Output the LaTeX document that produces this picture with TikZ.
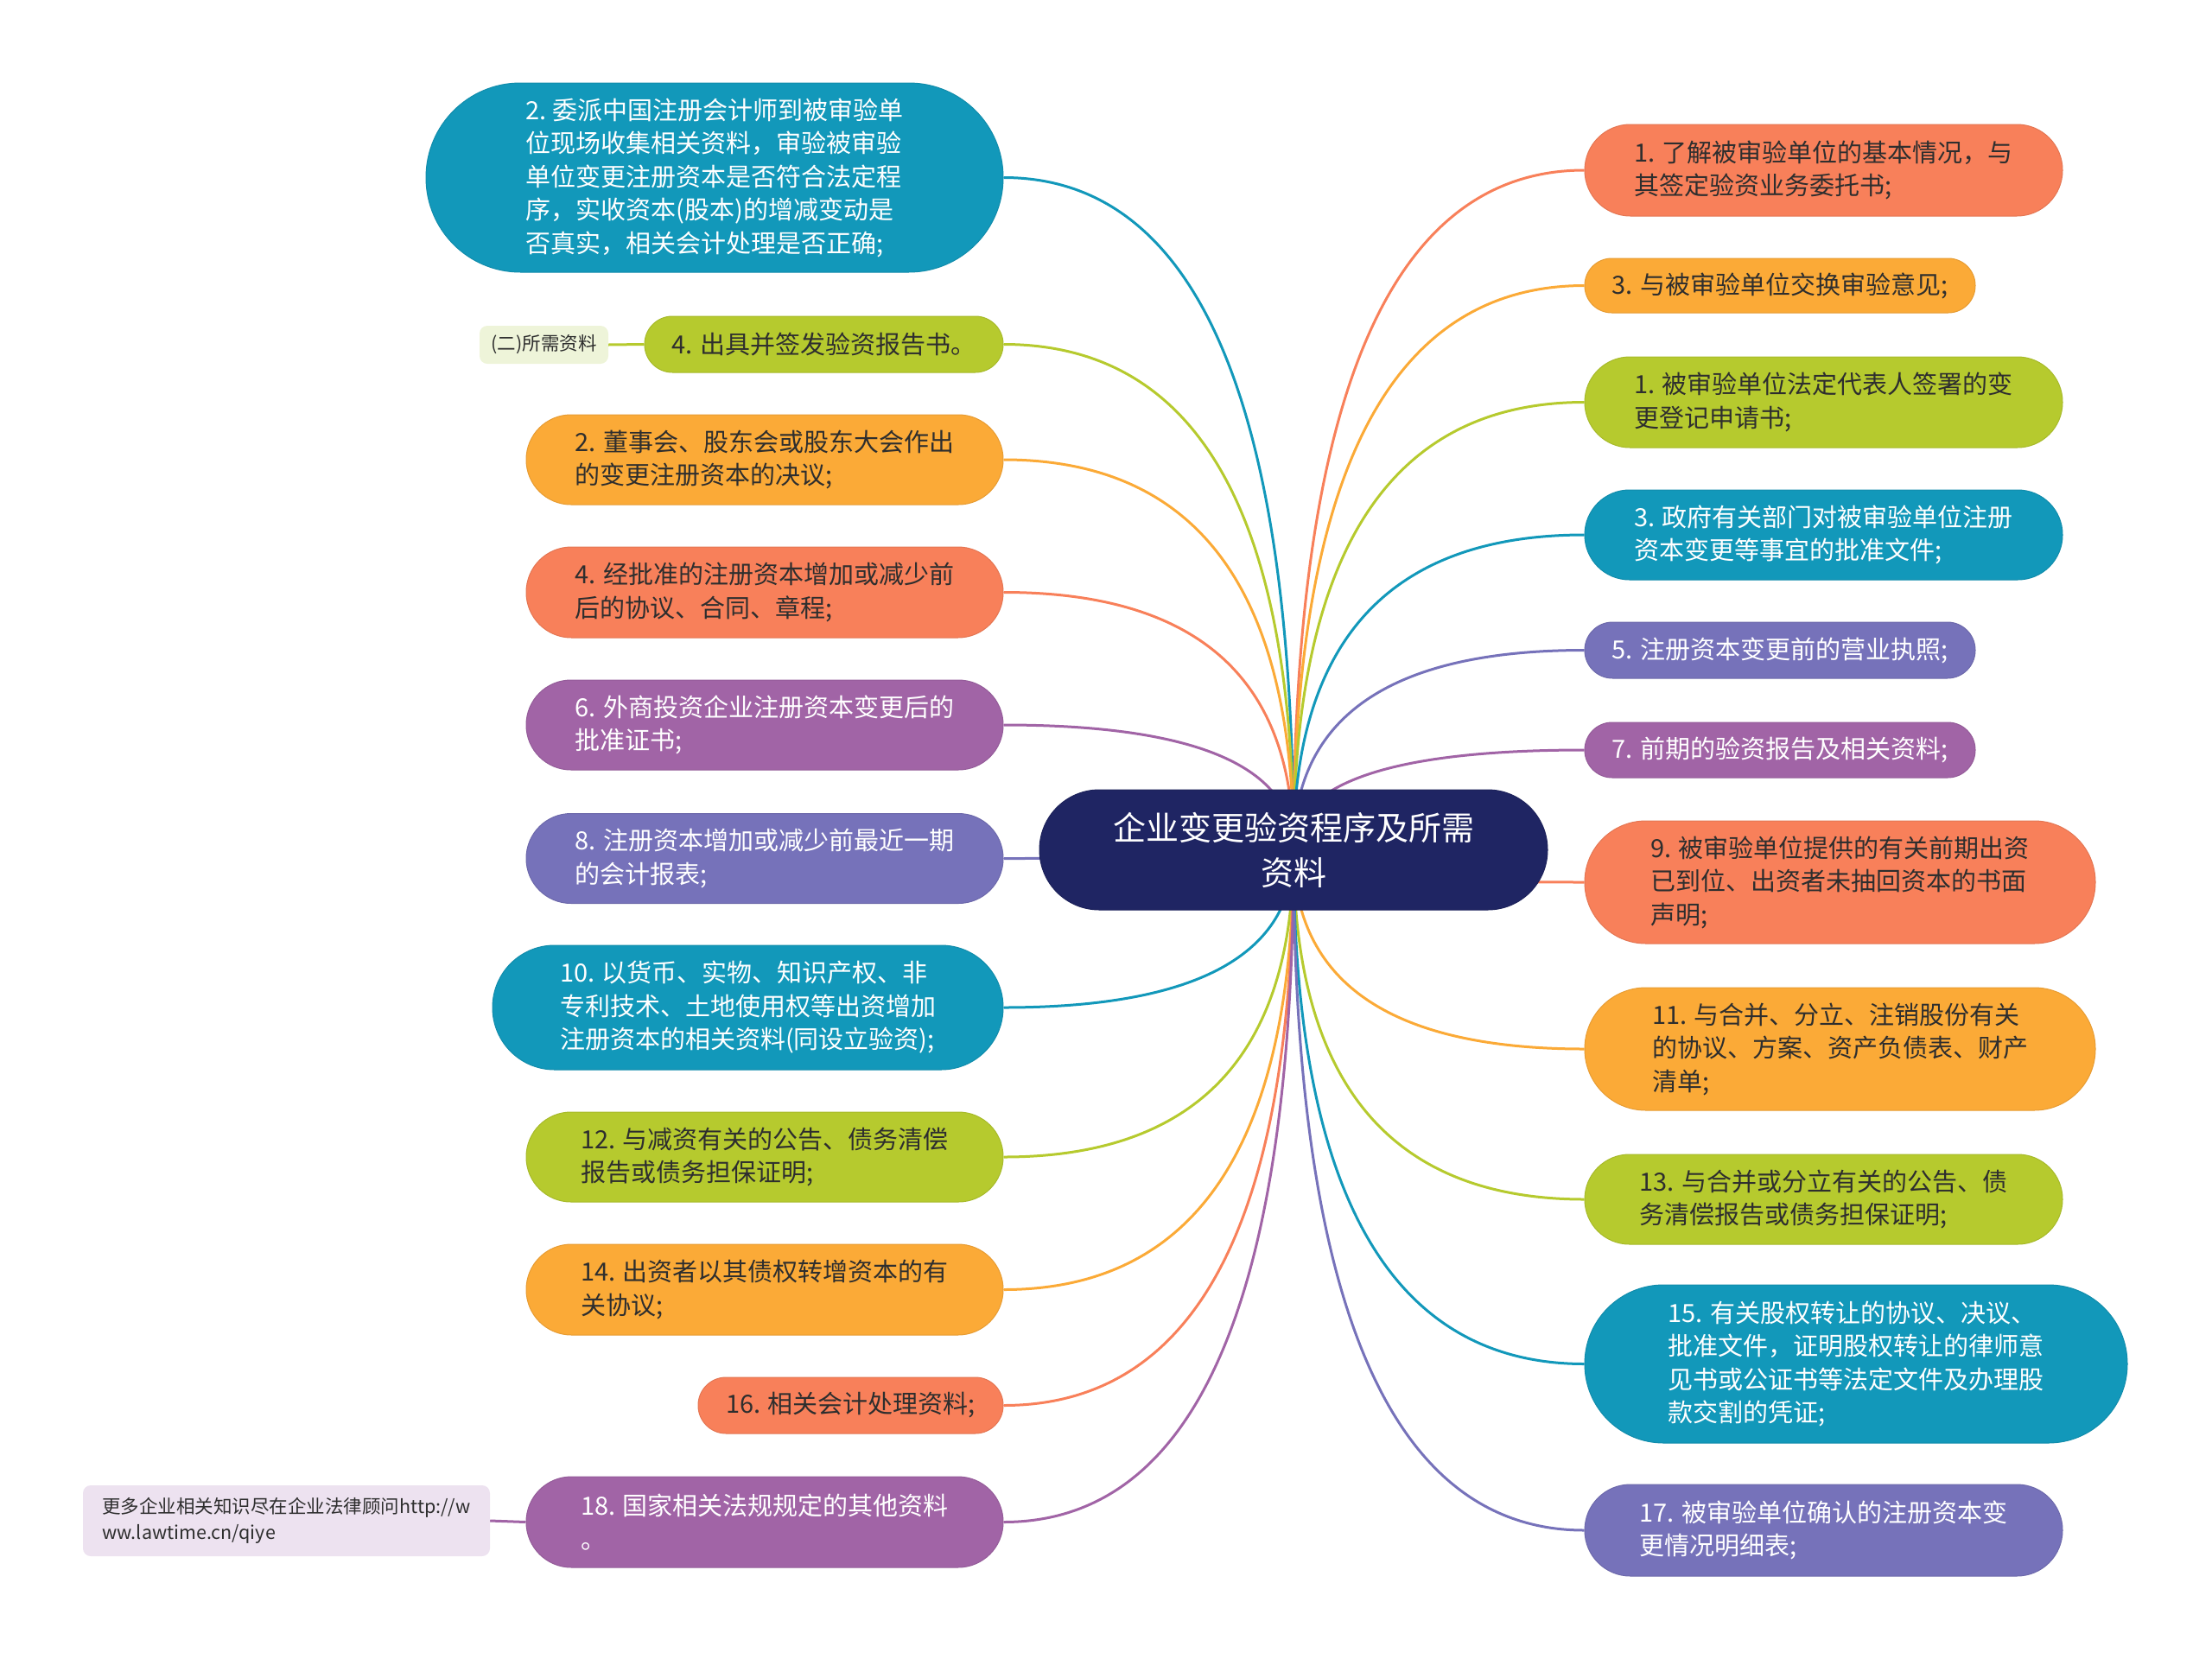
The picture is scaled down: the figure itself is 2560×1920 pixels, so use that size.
\documentclass[tikz,border=0pt]{standalone}
\usepackage{fontspec}
\newfontfamily\cjk{Noto Sans CJK SC}
\usetikzlibrary{calc,backgrounds}
\definecolor{cteal}{HTML}{1298BA}
\definecolor{cgreen}{HTML}{B6CA2E}
\definecolor{cyellow}{HTML}{FBAA37}
\definecolor{corange}{HTML}{F8805A}
\definecolor{cpurple}{HTML}{A164A6}
\definecolor{cblue}{HTML}{7672BA}
\definecolor{cnavy}{HTML}{1F2563}
\definecolor{clgreen}{HTML}{EEF4D9}
\definecolor{clpurple}{HTML}{EDE2F0}
\definecolor{cdark}{HTML}{2E2E2E}
\tikzset{
  box/.style={font=\cjk\fontsize{29}{38.5}\selectfont, align=left, inner sep=0pt, draw=#1!92!black, line width=1pt, fill=#1},
  dk/.style={text=cdark},
  wt/.style={text=white},
  link/.style={line width=3pt},
  small/.style={font=\cjk\fontsize{21.5}{30}\selectfont, align=left, inner sep=0pt, text=cdark, rounded corners=9pt},
}
\newcommand\link[2]{%
  \draw[link,#2] (c.center) .. controls ($(c.center)!2/3!(c.center|-#1)$) and ($(#1)!2/3!(c.center|-#1)$) .. (#1);
}
\begin{document}
\begin{tikzpicture}[x=1pt,y=-1pt]
\useasboundingbox (0,0) rectangle (2560,1920);

% center
\node[box=cnavy, text=white, align=center, font=\cjk\fontsize{38}{52}\selectfont, minimum width=588, minimum height=139, rounded corners=69.3] (c) at (1497,983.5) {企业变更验资程序及所需\\资料};

% left side
\node[box=cteal, wt, minimum width=668, minimum height=219, rounded corners=109.3] (l1) at (827,205.5)
 {2.\ 委派中国注册会计师到被审验单\\位现场收集相关资料，审验被审验\\单位变更注册资本是否符合法定程\\序，实收资本(股本)的增减变动是\\否真实，相关会计处理是否正确;};
\node[box=cgreen, dk, minimum width=415, minimum height=65, rounded corners=32.3] (l2) at (953.5,398.5) {4. 出具并签发验资报告书。};
\node[small, fill=clgreen, minimum width=149, minimum height=44] (ls) at (629.5,399) {(二)所需资料};
\node[box=cyellow, dk, minimum width=552, minimum height=104, rounded corners=51.8] (l3) at (885,532) {2. 董事会、股东会或股东大会作出\\的变更注册资本的决议;};
\node[box=corange, dk, minimum width=552, minimum height=105, rounded corners=52.3] (l4) at (885,685.5) {4. 经批准的注册资本增加或减少前\\后的协议、合同、章程;};
\node[box=cpurple, wt, minimum width=552, minimum height=104, rounded corners=51.8] (l5) at (885,839) {6. 外商投资企业注册资本变更后的\\批准证书;};
\node[box=cblue, wt, minimum width=552, minimum height=104, rounded corners=51.8] (l6) at (885,993.5) {8. 注册资本增加或减少前最近一期\\的会计报表;};
\node[box=cteal, wt, minimum width=591, minimum height=144, rounded corners=71.8] (l7) at (865.5,1166) {10. 以货币、实物、知识产权、非\\专利技术、土地使用权等出资增加\\注册资本的相关资料(同设立验资);};
\node[box=cgreen, dk, minimum width=552, minimum height=104, rounded corners=51.8] (l8) at (885,1339) {12. 与减资有关的公告、债务清偿\\报告或债务担保证明;};
\node[box=cyellow, dk, minimum width=552, minimum height=105, rounded corners=52.3] (l9) at (885,1492.5) {14. 出资者以其债权转增资本的有\\关协议;};
\node[box=corange, dk, minimum width=353, minimum height=65, rounded corners=32.3] (l10) at (984.5,1626.5) {16. 相关会计处理资料;};
\node[box=cpurple, wt, minimum width=552, minimum height=105, rounded corners=52.3] (l11) at (885,1761.5) {18. 国家相关法规规定的其他资料\\。};
\node[small, fill=clpurple, minimum width=471, minimum height=82] (ln) at (331.5,1760) {更多企业相关知识尽在企业法律顾问http://w\\ww.lawtime.cn/qiye};

% right side
\node[box=corange, dk, minimum width=553, minimum height=106, rounded corners=52.8] (r1) at (2110.5,197) {1. 了解被审验单位的基本情况，与\\其签定验资业务委托书;};
\node[box=cyellow, dk, minimum width=452, minimum height=63, rounded corners=31.3] (r2) at (2060,330.5) {3. 与被审验单位交换审验意见;};
\node[box=cgreen, dk, minimum width=553, minimum height=105, rounded corners=52.3] (r3) at (2110.5,465.5) {1. 被审验单位法定代表人签署的变\\更登记申请书;};
\node[box=cteal, wt, minimum width=553, minimum height=104, rounded corners=51.8] (r4) at (2110.5,619) {3. 政府有关部门对被审验单位注册\\资本变更等事宜的批准文件;};
\node[box=cblue, wt, minimum width=452, minimum height=65, rounded corners=32.3] (r5) at (2060,752.5) {5. 注册资本变更前的营业执照;};
\node[box=cpurple, wt, minimum width=452, minimum height=64, rounded corners=31.8] (r6) at (2060,868) {7. 前期的验资报告及相关资料;};
\node[box=corange, dk, minimum width=591, minimum height=142, rounded corners=70.8] (r7) at (2129.5,1021) {9. 被审验单位提供的有关前期出资\\已到位、出资者未抽回资本的书面\\声明;};
\node[box=cyellow, dk, minimum width=591, minimum height=142, rounded corners=70.8] (r8) at (2129.5,1214) {11. 与合并、分立、注销股份有关\\的协议、方案、资产负债表、财产\\清单;};
\node[box=cgreen, dk, minimum width=553, minimum height=104, rounded corners=51.8] (r9) at (2110.5,1388) {13. 与合并或分立有关的公告、债\\务清偿报告或债务担保证明;};
\node[box=cteal, wt, minimum width=628, minimum height=183, rounded corners=91.3] (r10) at (2148,1578.5) {15. 有关股权转让的协议、决议、\\批准文件，证明股权转让的律师意\\见书或公证书等法定文件及办理股\\款交割的凭证;};
\node[box=cblue, wt, minimum width=553, minimum height=106, rounded corners=52.8] (r11) at (2110.5,1771) {17. 被审验单位确认的注册资本变\\更情况明细表;};

\begin{pgfonlayer}{background}
\link{l1.east}{cteal}
\link{l2.east}{cgreen}
\link{l3.east}{cyellow}
\link{l4.east}{corange}
\link{l5.east}{cpurple}
\link{l6.east}{cblue}
\link{l7.east}{cteal}
\link{l8.east}{cgreen}
\link{l9.east}{cyellow}
\link{l10.east}{corange}
\link{l11.east}{cpurple}
\link{r1.west}{corange}
\link{r2.west}{cyellow}
\link{r3.west}{cgreen}
\link{r4.west}{cteal}
\link{r5.west}{cblue}
\link{r6.west}{cpurple}
\link{r7.west}{corange}
\link{r8.west}{cyellow}
\link{r9.west}{cgreen}
\link{r10.west}{cteal}
\link{r11.west}{cblue}
\draw[link,cgreen] (ls.east) -- (l2.west);
\draw[link,cpurple] (ln.east) -- (l11.west);
\end{pgfonlayer}
\end{tikzpicture}
\end{document}
